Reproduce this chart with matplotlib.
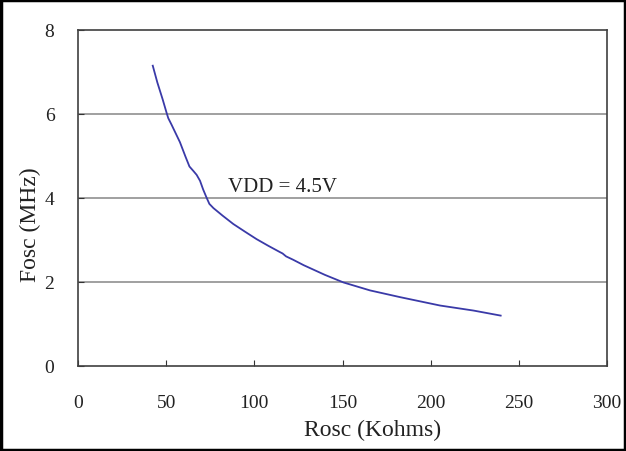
import matplotlib
matplotlib.use("Agg")
import matplotlib.pyplot as plt
from matplotlib.patches import Rectangle

rosc = [42.4, 45.0, 48.0, 50.3, 51.2, 53.0, 57.8, 61.0, 63.2, 65.5, 67.3, 69.2,
        71.0, 72.9, 74.5, 76.8, 82.0, 88.1, 95.0, 101.3, 108.0, 114.6, 116.0,
        118.0, 122.0, 128.0, 140.0, 150.5, 165.6, 182.6, 205.3, 224.3, 239.7]
fosc = [7.15, 6.75, 6.35, 6.02, 5.90, 5.75, 5.33, 4.98, 4.75, 4.64, 4.55, 4.41,
        4.20, 4.01, 3.86, 3.76, 3.58, 3.38, 3.19, 3.02, 2.86, 2.71, 2.68,
        2.61, 2.53, 2.40, 2.17, 1.99, 1.80, 1.64, 1.44, 1.32, 1.20]
xticks = [0, 50, 100, 150, 200, 250, 300]
yticks = [0, 2, 4, 6, 8]
annotation = "VDD = 4.5V"
xlabel = "Rosc (Kohms)"
ylabel = "Fosc (MHz)"

font = "Liberation Serif"
W, H = 626, 452
fig = plt.figure(figsize=(W / 100, H / 100), dpi=100)
L, R, T, B = 78, 607, 31, 367
ax = fig.add_axes([L / W, 1 - B / H, (R - L) / W, (B - T) / H])

ax.plot(rosc, fosc, color="#3a3aa8", lw=1.3)
ax.set_xlim(0, 300)
ax.set_ylim(0, 8)
ax.set_xticks(xticks)
ax.set_yticks(yticks)
for y in yticks[1:-1]:
    ax.axhline(y, color="#a0a0a0", lw=1.4, zorder=0)
ax.tick_params(axis="x", direction="in", length=4, pad=20, labelsize=14,
               color="#333333", labelcolor="#222222")
ax.tick_params(axis="y", direction="in", length=4, pad=17, labelsize=14,
               color="#333333", labelcolor="#222222")
for lab in ax.get_xticklabels() + ax.get_yticklabels():
    lab.set_fontfamily(font)
for s in ax.spines.values():
    s.set_color("#404040")
    s.set_linewidth(1.2)

ax.set_xlabel(xlabel, fontfamily=font, fontsize=17, color="#222222")
ax.xaxis.set_label_coords((373 - L) / (R - L), (B - 430) / (B - T))
ax.xaxis.label.set_va("center")
ax.set_ylabel(ylabel, fontfamily=font, fontsize=17, color="#222222")
ax.yaxis.set_label_coords((30 - L) / (R - L), (B - 225) / (B - T))
ax.yaxis.label.set_va("center")

ax.text(85, 4.17, annotation, fontfamily=font, fontsize=15, color="#222222",
        va="baseline")

fig.patches.append(Rectangle((0.0015, 0.002), 0.997, 0.996, transform=fig.transFigure,
                             fill=False, edgecolor="black", lw=2.5))
fig.savefig("out.png", dpi=100)
